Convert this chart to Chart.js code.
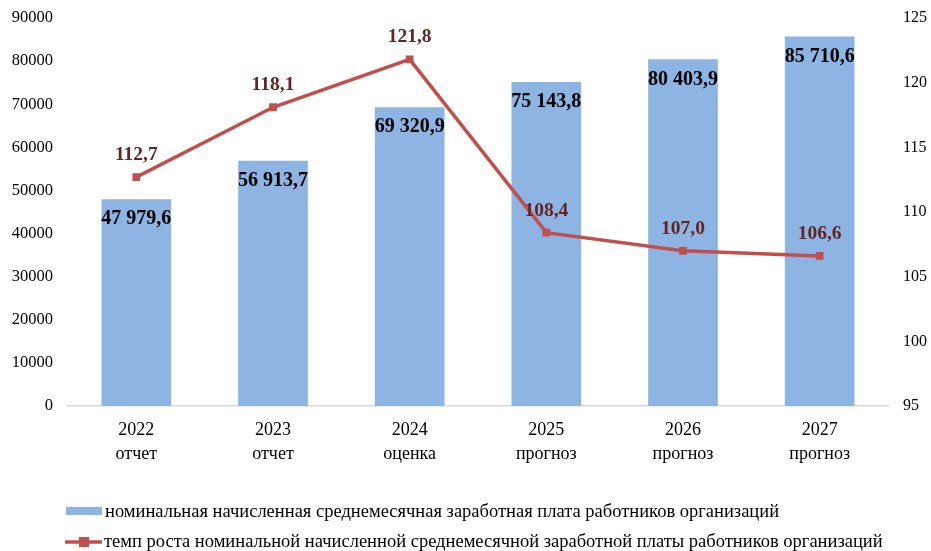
<!DOCTYPE html>
<html>
<head>
<meta charset="utf-8">
<script src="https://cdn.jsdelivr.net/npm/chart.js@4/dist/chart.umd.min.js"></script>
<style>
html,body{margin:0;padding:0;background:#fff;}
#wrap{width:931px;height:551px;position:relative;}
</style>
</head>
<body>
<div id="wrap"><canvas id="c" width="931" height="551"></canvas></div>
<script>
const years = ['2022','2023','2024','2025','2026','2027'];
const statuses = ['отчет','отчет','оценка','прогноз','прогноз','прогноз'];
const wages = [47979.6, 56913.7, 69320.9, 75143.8, 80403.9, 85710.6];
const growth = [112.7, 118.1, 121.8, 108.4, 107.0, 106.6];
const wageLabel = 'номинальная начисленная среднемесячная заработная плата работников организаций';
const growthLabel = 'темп роста номинальной начисленной среднемесячной заработной платы работников организаций';

const BAR_COLOR = '#8DB4E2';
const LINE_COLOR = '#C0504D';
const SERIF = '"Liberation Serif", "Times New Roman", serif';

function fmtWage(v){
  const parts = v.toFixed(1).split('.');
  const int = parts[0].replace(/\B(?=(\d{3})+(?!\d))/g, ' ');
  return int + ',' + parts[1];
}
function fmtGrowth(v){ return v.toFixed(1).replace('.', ','); }

const labelsPlugin = {
  id: 'labelsPlugin',
  afterDatasetsDraw(chart){
    const ctx = chart.ctx;
    ctx.save();
    ctx.textAlign = 'center';
    ctx.textBaseline = 'middle';
    const barMeta = chart.getDatasetMeta(1);
    ctx.font = 'bold 20px ' + SERIF;
    ctx.fillStyle = '#000';
    barMeta.data.forEach((el, i) => {
      ctx.fillText(fmtWage(wages[i]), el.x, el.y + 20);
    });
    const lineMeta = chart.getDatasetMeta(0);
    ctx.font = 'bold 19.5px ' + SERIF;
    ctx.fillStyle = '#632423';
    lineMeta.data.forEach((el, i) => {
      ctx.fillText(fmtGrowth(growth[i]), el.x, el.y - 22);
    });
    ctx.restore();
  },
  afterDraw(chart){
    const ctx = chart.ctx;
    ctx.save();
    ctx.font = '18.5px ' + SERIF;
    ctx.textAlign = 'left';
    ctx.textBaseline = 'middle';
    ctx.fillStyle = BAR_COLOR;
    ctx.fillRect(66, 507, 36, 8);
    ctx.fillStyle = '#000';
    ctx.fillText(wageLabel, 105, 512);
    ctx.strokeStyle = LINE_COLOR;
    ctx.lineWidth = 3.5;
    ctx.beginPath();
    ctx.moveTo(65, 542);
    ctx.lineTo(102, 542);
    ctx.stroke();
    ctx.fillStyle = LINE_COLOR;
    ctx.fillRect(79, 537, 10, 10);
    ctx.fillStyle = '#000';
    ctx.fillText(growthLabel, 104, 542);
    ctx.restore();
  }
};

new Chart(document.getElementById('c'), {
  data: {
    labels: years.map((y, i) => [y, statuses[i]]),
    datasets: [
      {
        type: 'line',
        label: growthLabel,
        data: growth,
        yAxisID: 'y2',
        borderColor: LINE_COLOR,
        backgroundColor: LINE_COLOR,
        borderWidth: 3.5,
        pointStyle: 'rect',
        pointRadius: 5.5,
        pointHoverRadius: 5.5,
        pointBorderWidth: 0,
        tension: 0,
        order: 0
      },
      {
        type: 'bar',
        label: wageLabel,
        data: wages,
        yAxisID: 'y',
        backgroundColor: BAR_COLOR,
        borderWidth: 0,
        categoryPercentage: 0.51,
        barPercentage: 1.0,
        order: 1
      }
    ]
  },
  options: {
    responsive: false,
    animation: false,
    layout: { padding: { top: 18, bottom: 85, left: 0, right: 0 } },
    plugins: { legend: { display: false }, tooltip: { enabled: false } },
    scales: {
      x: {
        grid: { display: false, drawTicks: false },
        border: { display: true, color: '#D9D9D9', width: 1.5 },
        ticks: { color: '#000', font: { family: SERIF, size: 18, lineHeight: 1.3 }, padding: 13, maxRotation: 0, autoSkip: false },
        afterFit(s){ s.height = 60; s.paddingLeft = 0; s.paddingRight = 0; }
      },
      y: {
        position: 'left',
        min: 0, max: 90000,
        grid: { display: false, drawTicks: false },
        border: { display: false },
        ticks: { stepSize: 10000, color: '#000', font: { family: SERIF, size: 16.5 }, padding: 15, callback: v => String(v) },
        afterFit(s){ s.width = 68; s.paddingTop = 0; s.paddingBottom = 0; }
      },
      y2: {
        position: 'right',
        min: 95, max: 125,
        grid: { display: false, drawTicks: false },
        border: { display: false },
        ticks: { stepSize: 5, color: '#000', font: { family: SERIF, size: 16 }, padding: 15, callback: v => String(v) },
        afterFit(s){ s.width = 43; s.paddingTop = 0; s.paddingBottom = 0; }
      }
    }
  },
  plugins: [labelsPlugin]
});
</script>
</body>
</html>
